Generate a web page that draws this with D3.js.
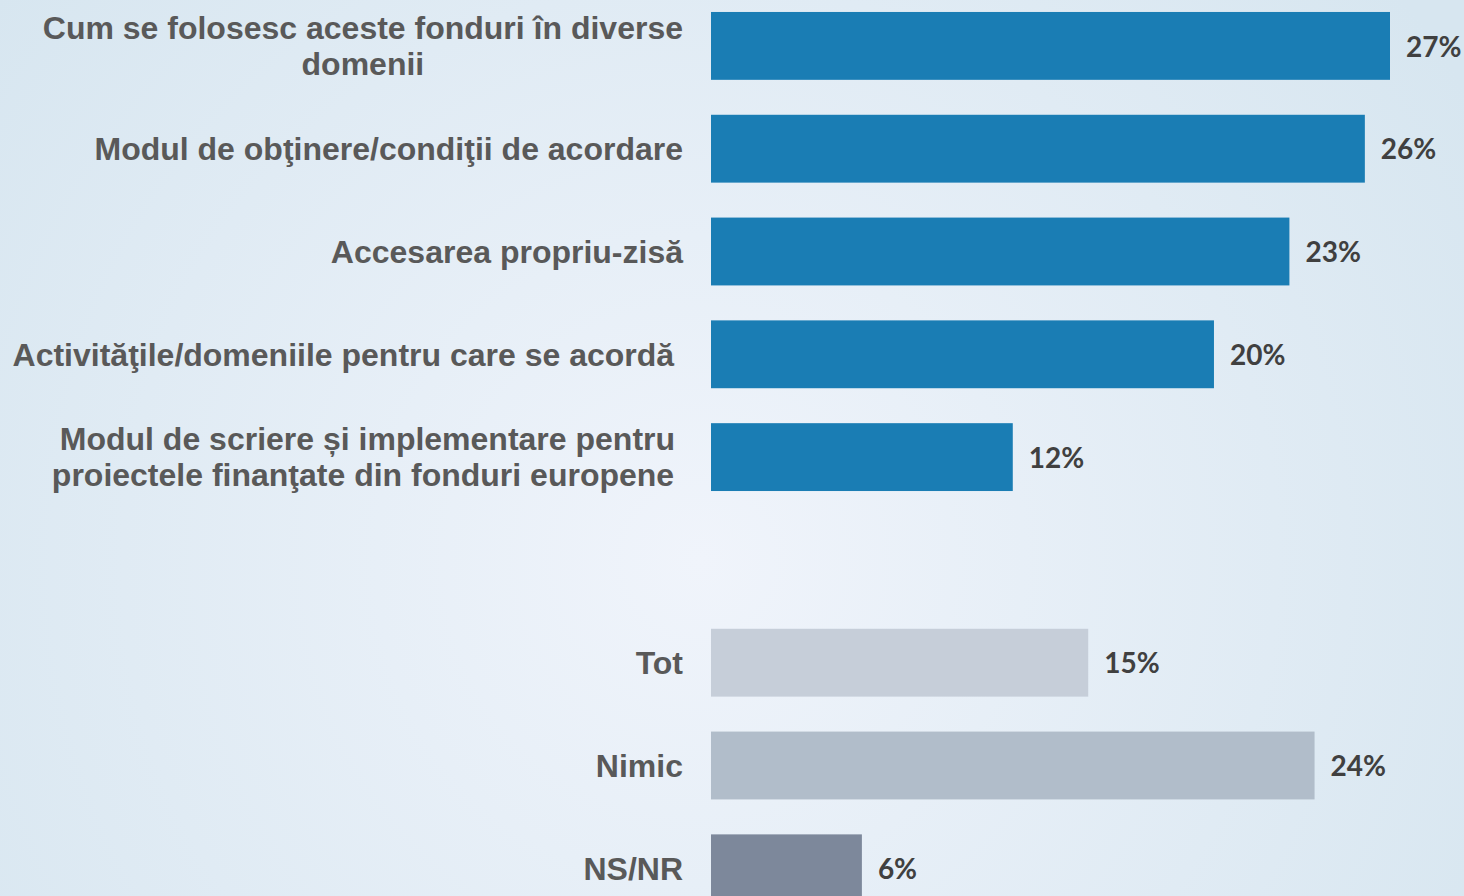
<!DOCTYPE html>
<html>
<head>
<meta charset="utf-8">
<script src="https://cdn.jsdelivr.net/npm/d3@7"></script>
<style>
  html, body { margin: 0; padding: 0; overflow: hidden; }
</style>
</head>
<body>
<svg id="chart"></svg>
<script>
// data
var categories = [
  "Cum se folosesc aceste fonduri în diverse|domenii",
  "Modul de obţinere/condiţii de acordare",
  "Accesarea propriu-zisă",
  "Activităţile/domeniile pentru care se acordă\u00a0",
  "Modul de scriere și implementare pentru|proiectele finanţate din fonduri europene\u00a0",
  "",
  "Tot",
  "Nimic",
  "NS/NR"
];
var values = [27, 26, 23, 20, 12, null, 15, 24, 6];
var barColors = ["#1a7db4", "#1a7db4", "#1a7db4", "#1a7db4", "#1a7db4", null, "#c6ced9", "#b1bdca", "#7d889b"];

var W = 1464, H = 896;

var svg = d3.select("#chart")
    .attr("width", W)
    .attr("height", H);

// background gradient
var defs = svg.append("defs");
var grad = defs.append("radialGradient")
    .attr("id", "bg")
    .attr("gradientUnits", "userSpaceOnUse")
    .attr("cx", 700).attr("cy", 560).attr("r", 900);
grad.append("stop").attr("offset", "0%").attr("stop-color", "#f0f4fb");
grad.append("stop").attr("offset", "100%").attr("stop-color", "#d7e6f0");

svg.append("rect")
    .attr("width", W).attr("height", H)
    .attr("fill", "url(#bg)");

var keys = categories.map(function(d, i) { return "k" + i; });

var x = d3.scaleLinear()
    .domain([0, 27])
    .range([711, 1390]);

var y = d3.scaleBand()
    .domain(keys)
    .range([-5.5, 919.7])
    .paddingInner(0.34)
    .paddingOuter(0.17);

var rows = keys.map(function(k, i) {
  return {key: k, label: categories[i], value: values[i], color: barColors[i]};
});

// bars
svg.selectAll("rect.bar")
  .data(rows.filter(function(d) { return d.value != null; }))
  .enter()
  .append("rect")
    .attr("class", "bar")
    .attr("x", x(0))
    .attr("y", function(d) { return y(d.key); })
    .attr("width", function(d) { return x(d.value) - x(0); })
    .attr("height", y.bandwidth())
    .attr("fill", function(d) { return d.color; });

// value labels
svg.selectAll("text.val")
  .data(rows.filter(function(d) { return d.value != null; }))
  .enter()
  .append("text")
    .attr("class", "val")
    .attr("x", function(d) { return x(d.value) + 16; })
    .attr("y", function(d) { return y(d.key) + y.bandwidth() / 2; })
    .attr("dy", "0.38em")
    .attr("font-family", "Lato, 'Open Sans', sans-serif")
    .attr("font-weight", "bold")
    .attr("font-size", "28px")
    .attr("fill", "#404040")
    .text(function(d) { return d.value + "%"; });

// category labels (multi-line ones are centred as a block ending at the bars)
var labelRight = 683;
rows.forEach(function(d) {
  if (!d.label) return;
  var lines = d.label.split("|");
  var cy = y(d.key) + y.bandwidth() / 2;
  var t = svg.append("text")
      .attr("font-family", "Arial, 'Liberation Sans', sans-serif")
      .attr("font-weight", "bold")
      .attr("font-size", "32px")
      .attr("fill", "#595959")
      .style("white-space", "pre");
  if (lines.length == 1) {
    t.attr("text-anchor", "end")
      .attr("x", labelRight)
      .attr("y", cy)
      .attr("dy", "0.35em")
      .text(lines[0]);
  } else {
    t.attr("text-anchor", "middle");
    lines.forEach(function(line, j) {
      t.append("tspan")
        .attr("x", 0)
        .attr("y", cy + (j - (lines.length - 1) / 2) * 36)
        .attr("dy", "0.35em")
        .text(line);
    });
    // centre of the widest line sits so that its right end is at labelRight
    var w = 0;
    t.selectAll("tspan").each(function() { w = Math.max(w, this.getComputedTextLength()); });
    t.selectAll("tspan").attr("x", labelRight - w / 2);
  }
});
</script>
</body>
</html>
